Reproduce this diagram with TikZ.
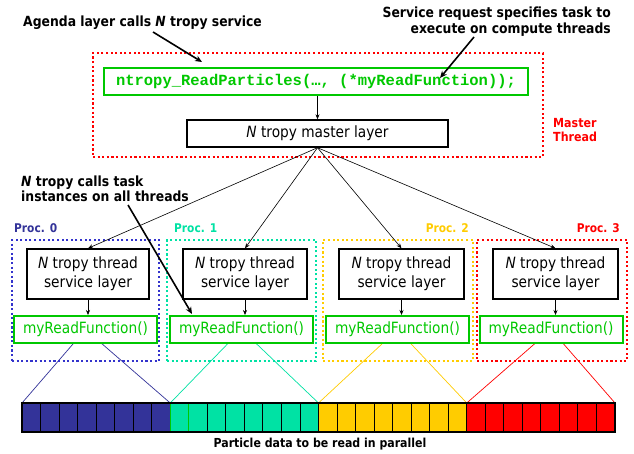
\documentclass[tikz,border=0pt]{standalone}
\usepackage{fontspec}
\setmainfont{DejaVu Sans}[FakeStretch=0.885]
\newfontfamily\codefont{Liberation Mono}
\usetikzlibrary{arrows.meta}
\definecolor{pblue}{RGB}{51,51,153}
\definecolor{pbluedot}{RGB}{51,51,204}
\definecolor{pcyan}{RGB}{0,226,164}
\definecolor{pyellow}{RGB}{255,204,0}
\definecolor{pred}{RGB}{255,0,0}
\definecolor{fgreen}{RGB}{0,200,0}
\pgfdeclarelayer{bg}
\pgfsetlayers{bg,main}
\tikzset{
  blackbox/.style={draw=black, line width=1.4pt, fill=white, inner sep=0pt, align=center,
    font=\fontsize{15.5}{19}\selectfont},
  greenbox/.style={draw=fgreen, line width=2pt, fill=white, text=fgreen, inner sep=0pt,
    minimum width=143, minimum height=27, font=\fontsize{15.5}{19}\selectfont},
  dotbox/.style={line width=2.1pt, dash pattern=on 2.1pt off 2.5pt, inner sep=0pt},
  callout/.style={font=\bfseries\fontsize{14}{15.5}\selectfont, inner sep=0pt, align=left},
  proclabel/.style={font=\bfseries\fontsize{12}{14}\selectfont, inner sep=0pt},
  arr/.style={draw=black, line width=0.6pt, -{Stealth[length=5pt,width=4pt]}},
  callarr/.style={draw=black, line width=1.6pt, -{Stealth[length=7pt,width=6pt]}},
  cell/.style={draw=black, line width=0.9pt}
}
\begin{document}
\begin{tikzpicture}[x=1pt,y=-1pt]
\begin{pgfonlayer}{bg}
\fill[white] (0,0) rectangle (634,453);
\end{pgfonlayer}
\useasboundingbox (0,0) rectangle (634,453);

% master thread area
\node[dotbox, draw=pred, minimum width=450, minimum height=104] (MB) at (318,105) {};
\node[draw=fgreen, line width=2pt, fill=white, text=fgreen, inner sep=0pt,
  minimum width=424, minimum height=27, font=\codefont\bfseries\fontsize{15.5}{18}\selectfont]
  (C) at (316,81.5) {ntropy\_ReadParticles(…, (*myReadFunction));};
\node[blackbox, minimum width=261, minimum height=27] (M) at (317.5,133.5) {\textit{N} tropy master layer};
\node[callout, text=pred, anchor=west, font=\bfseries\fontsize{12.5}{14}\selectfont] (MT) at (553,130) {Master\\Thread};

% callout texts
\node[callout, anchor=west] (A) at (23,23) {Agenda layer calls \textit{N} tropy service};
\node[callout, anchor=east, align=right] (S) at (611,21.5) {Service request specifies task to\\execute on compute threads};
\node[callout, anchor=west] (NC) at (21,189) {\textit{N} tropy calls task\\instances on all threads};

% process boxes
\node[dotbox, draw=pbluedot, minimum width=147, minimum height=121] (P0) at (85.5,300.5) {};
\node[dotbox, draw=pcyan, minimum width=149, minimum height=121] (P1) at (241.5,300.5) {};
\node[dotbox, draw=pyellow, minimum width=150, minimum height=121] (P2) at (398,300.5) {};
\node[dotbox, draw=pred, minimum width=150, minimum height=121] (P3) at (552,300.5) {};

\node[proclabel, text=pblue, anchor=west] (L0) at (14,228) {Proc. 0};
\node[proclabel, text=pcyan, anchor=west] (L1) at (174,228) {Proc. 1};
\node[proclabel, text=pyellow, anchor=east] (L2) at (469,228) {Proc. 2};
\node[proclabel, text=pred, anchor=east] (L3) at (620,228) {Proc. 3};

% thread boxes
\node[blackbox, minimum width=122, minimum height=50] (T0) at (88,274) {\textit{N} tropy thread\\service layer};
\node[blackbox, minimum width=124, minimum height=50] (T1) at (245,274) {\textit{N} tropy thread\\service layer};
\node[blackbox, minimum width=125, minimum height=50] (T2) at (401.5,274) {\textit{N} tropy thread\\service layer};
\node[blackbox, minimum width=125, minimum height=50] (T3) at (555.5,274) {\textit{N} tropy thread\\service layer};

% read function boxes
\node[greenbox] (R0) at (85.5,329.5) {myReadFunction()};
\node[greenbox] (R1) at (241.5,329.5) {myReadFunction()};
\node[greenbox] (R2) at (397.5,329.5) {myReadFunction()};
\node[greenbox] (R3) at (551,329.5) {myReadFunction()};

% data bar
\foreach \c [count=\g from 0] in {pblue,pcyan,pyellow,pred}{
  \foreach \i in {0,...,7}{
    \pgfmathsetmacro{\xa}{22+(\g*8+\i)*18.53125}
    \pgfmathsetmacro{\xb}{\xa+18.53125}
    \draw[cell, fill=\c] (\xa,403) rectangle (\xb,432);
  }
}
\draw[draw=fgreen, line width=0.9pt] (170.25,403) rectangle (188.78,432);
\draw[line width=1.2pt] (22,403) rectangle (615,432);
\coordinate (b0) at (22,403);
\coordinate (b1) at (170.25,403);
\coordinate (b2) at (318.5,403);
\coordinate (b3) at (466.75,403);
\coordinate (b4) at (615,403);
\node[font=\bfseries\fontsize{12.4}{14}\selectfont, inner sep=0pt] (cap) at (320,444) {Particle data to be read in parallel};

\begin{pgfonlayer}{bg}
\draw[pblue, line width=0.7pt] (b0) -- (R0.center) -- (b1);
\draw[pcyan, line width=0.7pt] (b1) -- (R1.center) -- (b2);
\draw[pyellow, line width=0.7pt] (b2) -- (R2.center) -- (b3);
\draw[pred, line width=0.7pt] (b3) -- (R3.center) -- (b4);
\end{pgfonlayer}

% connectors
\draw[arr] (C.south -| M.north) -- (M.north);
\foreach \t in {T0,T1,T2,T3}{
  \draw[arr] (M.south) -- (\t.north);
  \draw[arr] (\t.south) -- (\t.south |- R0.north);
}
\coordinate (a1) at (153,32);
\coordinate (a2) at (202,62);
\coordinate (s1) at (474,37);
\coordinate (s2) at (440,78);
\coordinate (n1) at (128,205);
\coordinate (n2) at (192,314);
\draw[callarr] (a1) -- (a2);
\draw[callarr] (s1) -- (s2);
\draw[callarr] (n1) -- (n2);
\end{tikzpicture}
\end{document}
